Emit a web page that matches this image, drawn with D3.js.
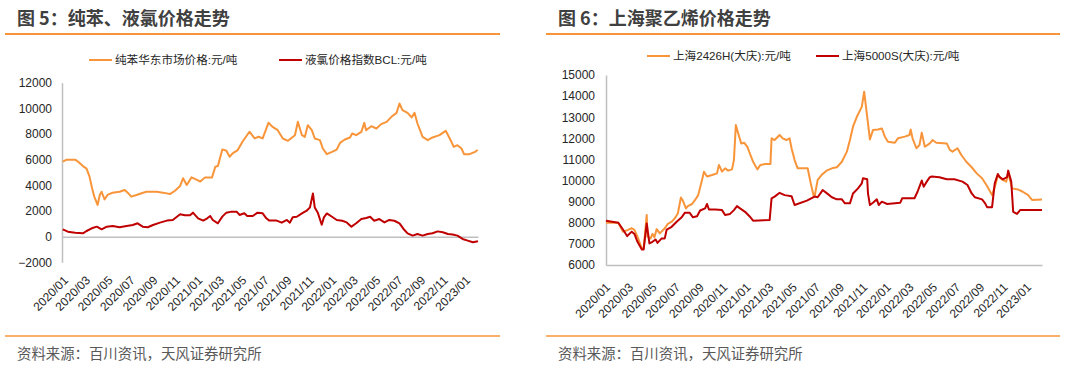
<!DOCTYPE html>
<html>
<head>
<meta charset="utf-8">
<script src="https://cdn.jsdelivr.net/npm/d3@7"></script>
<style>
  body { margin: 0; background: #fff; }
  svg { display: block; font-family: "Liberation Sans", Arial, "Noto Sans CJK SC", sans-serif; }
</style>
</head>
<body>
<svg id="vis" width="1080" height="368"></svg>
<script>
// ---- data ----
var xTickLabels = ["2020/01","2020/03","2020/05","2020/07","2020/09","2020/11",
    "2021/01","2021/03","2021/05","2021/07","2021/09","2021/11",
    "2022/01","2022/03","2022/05","2022/07","2022/09","2022/11","2023/01"];

var leftYTicks = [-2000, 0, 2000, 4000, 6000, 8000, 10000, 12000];
var rightYTicks = [6000, 7000, 8000, 9000, 10000, 11000, 12000, 13000, 14000, 15000];

// 纯苯华东市场价格
var benzeneDates = ["2020-01-03","2020-01-14","2020-02-06","2020-02-14","2020-02-27","2020-03-08","2020-03-16","2020-03-23","2020-03-29","2020-04-07",
    "2020-04-13","2020-04-18","2020-04-26","2020-05-04","2020-05-18","2020-06-06","2020-06-20","2020-06-28","2020-07-08","2020-07-22",
    "2020-08-05","2020-08-18","2020-09-15","2020-10-02","2020-10-21","2020-11-04","2020-11-18","2020-11-26","2020-12-06","2020-12-19",
    "2021-01-03","2021-01-12","2021-01-25","2021-02-13","2021-02-22","2021-03-01","2021-03-13","2021-03-24","2021-04-02","2021-04-10",
    "2021-04-24","2021-05-07","2021-05-26","2021-06-09","2021-06-20","2021-07-01","2021-07-17","2021-07-28","2021-08-11","2021-08-25",
    "2021-09-08","2021-09-27","2021-10-05","2021-10-16","2021-10-24","2021-11-01","2021-11-12","2021-11-20","2021-12-04","2021-12-12",
    "2021-12-23","2022-01-06","2022-01-19","2022-01-28","2022-02-10","2022-02-24","2022-03-02","2022-03-13","2022-03-27","2022-04-04",
    "2022-04-09","2022-04-23","2022-05-07","2022-05-20","2022-06-04","2022-06-17","2022-07-01","2022-07-09","2022-07-17","2022-07-31",
    "2022-08-11","2022-08-19","2022-08-27","2022-09-10","2022-09-24","2022-10-07","2022-10-26","2022-11-12","2022-11-23","2022-12-04",
    "2022-12-14","2022-12-25","2023-01-01","2023-01-16","2023-01-31","2023-02-07"];
var benzeneValues = [5840,6000,6000,5840,5500,5300,4680,3770,3120,2470,
    3250,3500,2900,3250,3430,3500,3640,3430,3120,3250,
    3380,3500,3500,3430,3320,3580,3950,4550,4030,4620,
    4420,4290,4620,4620,5450,5500,6800,6700,6230,6490,
    6750,7400,8180,7660,7790,7660,8880,8560,8300,7650,
    7470,7910,8950,7910,7780,8690,8300,7650,7520,6870,
    6430,6610,6790,7310,7570,7730,8040,7910,8170,8870,
    8300,8610,8430,8770,8950,9340,9650,10380,9860,9650,
    9290,9650,8820,7780,7520,7730,7910,8250,7650,7000,
    7130,6870,6430,6430,6610,6750];

// 液氯价格指数BCL
var chlorineDates = ["2020-01-03","2020-01-17","2020-02-06","2020-02-27","2020-03-08","2020-03-22","2020-04-05","2020-04-18","2020-05-02","2020-05-18",
    "2020-06-06","2020-06-25","2020-07-12","2020-07-25","2020-08-08","2020-08-22","2020-09-05","2020-09-24","2020-10-13","2020-10-29",
    "2020-11-18","2020-12-01","2020-12-15","2020-12-23","2021-01-06","2021-01-20","2021-01-31","2021-02-08","2021-02-15","2021-03-01",
    "2021-03-13","2021-03-24","2021-04-07","2021-04-21","2021-04-29","2021-05-12","2021-05-20","2021-06-04","2021-06-17","2021-07-01",
    "2021-07-11","2021-07-19","2021-08-08","2021-08-22","2021-09-05","2021-09-13","2021-09-21","2021-10-02","2021-10-16","2021-10-29",
    "2021-11-07","2021-11-15","2021-11-20","2021-11-28","2021-12-09","2021-12-15","2021-12-23","2022-01-06","2022-01-19","2022-02-03",
    "2022-02-15","2022-02-28","2022-03-13","2022-03-27","2022-04-09","2022-04-20","2022-05-01","2022-05-15","2022-05-29","2022-06-11",
    "2022-06-25","2022-07-09","2022-07-20","2022-07-31","2022-08-14","2022-08-27","2022-09-10","2022-09-24","2022-10-07","2022-10-21",
    "2022-11-04","2022-11-18","2022-12-01","2022-12-14","2022-12-28","2023-01-11","2023-01-25","2023-02-08"];
var chlorineValues = [570,390,310,260,440,650,780,570,780,830,
    730,830,910,1040,780,730,910,1090,1250,1300,
    1740,1660,1660,1870,1430,1250,1430,1610,1300,1040,
    1560,1870,1950,1950,1690,1820,1610,1610,1870,1820,
    1430,1250,1250,1090,1300,1090,1510,1550,1810,2020,
    2280,3370,2280,1890,930,1500,1810,1550,1300,1240,
    1110,780,1040,1370,1450,1550,1240,1370,1110,1300,
    1240,1040,600,260,80,210,80,210,260,410,
    340,210,160,80,-180,-310,-440,-360];

// 上海2426H(大庆)
var pe2426hDates = ["2020-01-01","2020-02-02","2020-02-14","2020-02-27","2020-03-08","2020-03-15","2020-03-23","2020-04-03","2020-04-08","2020-04-16",
    "2020-04-18","2020-04-26","2020-05-01","2020-05-06","2020-05-12","2020-05-20","2020-06-02","2020-06-10","2020-06-20","2020-06-28",
    "2020-07-06","2020-07-14","2020-07-19","2020-07-27","2020-08-01","2020-08-12","2020-08-20","2020-08-28","2020-09-07","2020-09-12",
    "2020-09-20","2020-10-03","2020-10-16","2020-10-21","2020-10-29","2020-11-06","2020-11-14","2020-11-24","2020-11-29","2020-12-04",
    "2020-12-10","2020-12-18","2020-12-26","2021-01-03","2021-01-11","2021-01-18","2021-01-29","2021-02-06","2021-02-18","2021-03-04",
    "2021-03-07","2021-03-15","2021-03-28","2021-04-05","2021-04-15","2021-04-23","2021-04-28","2021-05-06","2021-05-14","2021-06-09",
    "2021-06-17","2021-06-25","2021-06-27","2021-07-05","2021-07-15","2021-07-28","2021-08-11","2021-08-24","2021-09-06","2021-09-19",
    "2021-09-27","2021-10-05","2021-10-15","2021-10-28","2021-11-03","2021-11-11","2021-11-18","2021-11-26","2021-12-09","2021-12-19",
    "2021-12-27","2022-01-04","2022-01-22","2022-01-30","2022-02-17","2022-03-01","2022-03-04","2022-03-09","2022-03-19","2022-03-27",
    "2022-04-02","2022-04-10","2022-04-23","2022-04-30","2022-05-10","2022-06-06","2022-06-14","2022-06-21","2022-07-04","2022-07-14",
    "2022-07-27","2022-08-10","2022-08-23","2022-09-06","2022-09-19","2022-10-02","2022-10-12","2022-10-17","2022-10-27","2022-11-08",
    "2022-11-13","2022-11-23","2022-12-08","2022-12-21","2023-01-04","2023-01-14","2023-02-09"];
var pe2426hValues = [8000,8000,7580,7660,7740,7660,7340,6790,6790,8370,
    7340,7260,7470,7310,7700,7500,7740,7950,8050,8210,
    8440,9200,9050,8680,8790,8890,9080,9310,10030,10420,
    10190,10260,10340,10740,10420,10580,10470,10530,10970,12630,
    12240,11760,11790,11600,11210,10890,10530,10740,10780,10780,
    12000,11920,12160,12000,11920,12000,11530,10970,10580,10580,
    9870,9240,9240,10030,10260,10470,10580,10630,10890,11370,
    11920,12550,13020,13500,14210,13020,11950,12390,12420,12470,
    12080,11840,11790,12000,12080,12160,12420,12000,11530,11680,
    12270,11600,11760,11920,11790,11760,11450,11370,11530,11210,
    10890,10630,10340,10110,9740,9310,9870,10260,10060,9950,
    10370,9630,9580,9470,9310,9080,9100];

// 上海5000S(大庆)
var pe5000sDates = ["2020-01-01","2020-02-02","2020-02-12","2020-02-25","2020-03-08","2020-03-15","2020-03-23","2020-04-03","2020-04-08","2020-04-16",
    "2020-04-23","2020-05-01","2020-05-09","2020-05-14","2020-05-25","2020-06-02","2020-06-07","2020-06-20","2020-07-03","2020-07-16",
    "2020-07-24","2020-08-06","2020-08-14","2020-08-25","2020-09-02","2020-09-15","2020-09-20","2020-09-25","2020-10-11","2020-10-29",
    "2020-11-06","2020-11-19","2020-11-29","2020-12-07","2020-12-15","2020-12-28","2021-01-11","2021-01-18","2021-03-02","2021-03-07",
    "2021-03-15","2021-03-28","2021-04-10","2021-04-28","2021-05-06","2021-06-07","2021-06-27","2021-07-05","2021-07-18","2021-07-31",
    "2021-08-11","2021-08-24","2021-09-06","2021-09-14","2021-09-27","2021-10-05","2021-10-18","2021-10-28","2021-10-31","2021-11-11",
    "2021-11-13","2021-11-18","2021-11-26","2021-12-06","2021-12-11","2021-12-19","2022-01-02","2022-02-05","2022-02-10","2022-03-14",
    "2022-03-22","2022-04-02","2022-04-07","2022-04-15","2022-04-23","2022-04-28","2022-05-18","2022-06-06","2022-06-26","2022-07-17",
    "2022-07-30","2022-08-10","2022-08-18","2022-09-06","2022-09-14","2022-09-19","2022-10-02","2022-10-09","2022-10-17","2022-10-22",
    "2022-10-30","2022-11-10","2022-11-13","2022-11-21","2022-11-26","2022-12-06","2022-12-14","2023-02-09"];
var pe5000sValues = [8100,8000,7740,7370,7580,7470,7100,6740,6740,7970,
    7020,7100,7210,7050,7260,7260,7680,7810,8050,8260,
    8470,8470,8260,8310,8580,8680,8890,8630,8630,8600,
    8370,8420,8600,8790,8680,8520,8260,8100,8130,9160,
    9240,9420,9310,9260,8840,9050,9240,9210,9550,9370,
    9210,9110,9110,8920,8920,9390,9630,9870,10110,10060,
    9390,8840,8950,9110,8840,9000,8890,8950,9160,9160,
    9470,10000,9710,9950,10160,10190,10160,10060,10060,9950,
    9790,9390,9210,9110,8920,8740,8740,9870,10310,10160,
    10060,10160,10470,9950,8520,8420,8600,8600];

// ---- drawing ----
var svg = d3.select("svg#vis");
var parseDay = d3.timeParse("%Y-%m-%d");
var parseMonth = d3.timeParse("%Y/%m");
var orange = "#F8953A";
var red = "#C00000";
var axisGray = "#BFBFBF";

var zip = function (dates, values) {
    return dates.map(function (d, i) { return { date: parseDay(d), value: values[i] }; });
};

var drawPanel = function (p) {
    let g = svg.append("g");

    // title + rules
    g.append("text")
        .attr("x", p.titleX).attr("y", 25)
        .style("font-size", "18px").style("font-weight", "bold")
        .style("fill", "#404040")
        .style("font-family", "'Noto Sans CJK SC', sans-serif")
        .text(p.title);
    g.append("line")
        .attr("x1", p.ruleX1).attr("x2", p.ruleX2).attr("y1", 34).attr("y2", 34)
        .attr("stroke", orange).attr("stroke-width", 2);
    g.append("line")
        .attr("x1", p.ruleX1).attr("x2", p.ruleX2).attr("y1", 336).attr("y2", 336)
        .attr("stroke", orange).attr("stroke-width", 1.5);
    g.append("text")
        .attr("x", p.titleX).attr("y", 359)
        .style("font-size", "14.4px").style("fill", "#595959")
        .style("font-family", "'Noto Sans CJK SC', sans-serif")
        .text("资料来源：百川资讯，天风证券研究所");

    let x = d3.scaleTime()
        .domain([parseDay("2020-01-01"), p.xEnd])
        .range([p.left, p.right]);
    let y = d3.scaleLinear()
        .domain(p.yDomain)
        .range([p.bottom, p.top]);

    // y axis (labels only, plus gray axis line)
    let yAxis = d3.axisLeft(y)
        .tickValues(p.yTicks)
        .tickFormat(d3.format("d"))
        .tickSize(0)
        .tickPadding(p.left - p.yLabelRight);
    let yGroup = g.append("g").attr("transform", "translate(" + p.left + ",0)").call(yAxis);
    yGroup.select(".domain").attr("stroke", axisGray).attr("stroke-width", 1.5);
    yGroup.selectAll("text").style("font-size", "12px").style("fill", "#262626")
        .style("font-family", "'Liberation Sans', Arial, sans-serif");

    // horizontal axis line at zero / bottom
    let xAxis = d3.axisBottom(x).tickValues([]).tickSize(0).tickSizeOuter(0);
    let xGroup = g.append("g").attr("transform", "translate(0," + y(p.xAxisAt) + ")").call(xAxis);
    xGroup.select(".domain").attr("stroke", axisGray).attr("stroke-width", 1.5);

    // rotated date labels
    g.selectAll("text.xlab")
        .data(xTickLabels)
        .enter().append("text")
        .attr("class", "xlab")
        .attr("transform", function (d) {
            return "translate(" + (x(parseMonth(d)) + p.labDx) + "," + p.labY + ") rotate(-45)";
        })
        .attr("text-anchor", "end")
        .attr("dy", "0.35em")
        .style("font-size", "12px").style("fill", "#262626")
        .style("font-family", "'Liberation Sans', Arial, sans-serif")
        .text(function (d) { return d; });

    // series
    let line = d3.line()
        .x(function (d) { return x(d.date); })
        .y(function (d) { return y(d.value); });
    p.series.forEach(function (s) {
        g.append("path")
            .datum(s.data)
            .attr("fill", "none")
            .attr("stroke", s.color)
            .attr("stroke-width", 2)
            .attr("stroke-linejoin", "round")
            .attr("d", line);
    });

    // legend
    p.series.forEach(function (s) {
        g.append("line")
            .attr("x1", s.legX).attr("x2", s.legX + 23)
            .attr("y1", p.legY).attr("y2", p.legY)
            .attr("stroke", s.color).attr("stroke-width", 2);
        g.append("text")
            .attr("x", s.legX + 26).attr("y", p.legY)
            .attr("dy", "0.36em")
            .style("font-size", "11.6px").style("fill", "#262626")
            .style("font-family", "'Liberation Sans', Arial, 'Noto Sans CJK SC', sans-serif")
            .text(s.name);
    });
};

drawPanel({
    title: "图 5：纯苯、液氯价格走势",
    titleX: 17, ruleX1: 5, ruleX2: 500,
    left: 62, right: 478, top: 82.7, bottom: 262.3,
    xEnd: parseDay("2023-02-08"),
    yDomain: [-2000, 12000], yTicks: leftYTicks, yLabelRight: 52, xAxisAt: 0,
    labDx: 4, labY: 278,
    legY: 60,
    series: [
        { name: "纯苯华东市场价格:元/吨", color: orange, legX: 89, data: zip(benzeneDates, benzeneValues) },
        { name: "液氯价格指数BCL:元/吨", color: red, legX: 279, data: zip(chlorineDates, chlorineValues) }
    ]
});

drawPanel({
    title: "图 6：上海聚乙烯价格走势",
    titleX: 558, ruleX1: 546, ruleX2: 1060,
    left: 606, right: 1042, top: 75, bottom: 265,
    xEnd: parseDay("2023-02-09"),
    yDomain: [6000, 15000], yTicks: rightYTicks, yLabelRight: 595, xAxisAt: 6000,
    labDx: 2, labY: 285,
    legY: 56,
    series: [
        { name: "上海2426H(大庆):元/吨", color: orange, legX: 647, data: zip(pe2426hDates, pe2426hValues) },
        { name: "上海5000S(大庆):元/吨", color: red, legX: 816, data: zip(pe5000sDates, pe5000sValues) }
    ]
});
</script>
</body>
</html>
